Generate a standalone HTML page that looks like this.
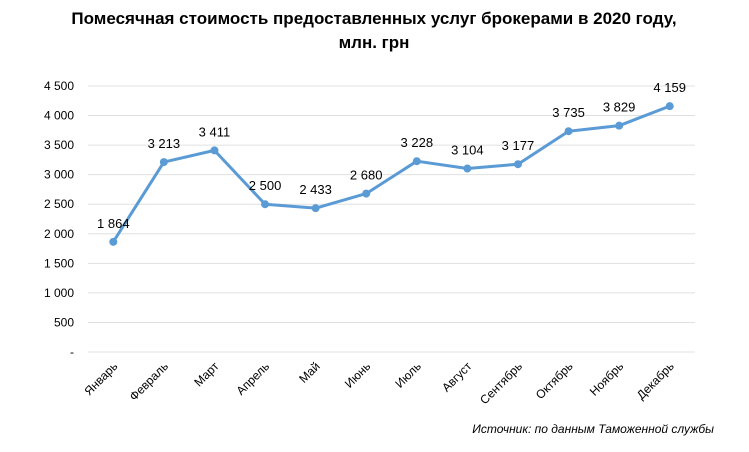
<!DOCTYPE html>
<html><head><meta charset="utf-8"><style>
body{margin:0;background:#fff;width:749px;height:447px;overflow:hidden;font-family:"Liberation Sans",Arial,sans-serif}
</style></head><body>
<svg width="749" height="447" id="c">
<text x="374" y="24" text-anchor="middle" font-size="17" font-weight="bold" fill="#000">Помесячная стоимость предоставленных услуг брокерами в 2020 году,</text>
<text x="374" y="48" text-anchor="middle" font-size="17" font-weight="bold" fill="#000">млн. грн</text>
<text x="714" y="433" text-anchor="end" font-size="12" font-style="italic" fill="#000">Источник: по данным Таможенной службы</text>
</svg>
<script>
const categories=["Январь","Февраль","Март","Апрель","Май","Июнь","Июль","Август","Сентябрь","Октябрь","Ноябрь","Декабрь"];
const values=[1864,3213,3411,2500,2433,2680,3228,3104,3177,3735,3829,4159];
const valueLabels=["1 864","3 213","3 411","2 500","2 433","2 680","3 228","3 104","3 177","3 735","3 829","4 159"];
const tickValues=[0,500,1000,1500,2000,2500,3000,3500,4000,4500];
const tickLabels=["-","500","1 000","1 500","2 000","2 500","3 000","3 500","4 000","4 500"];
const svg=document.getElementById('c');const NS="http://www.w3.org/2000/svg";
const x0=88,x1=695,y0=352,y1=86,ymax=4500;
const xs=i=>x0+(x1-x0)/categories.length*(i+0.5);
const ys=v=>y0-(v/ymax)*(y0-y1);
function mk(t,a,txt){const e=document.createElementNS(NS,t);for(const k in a)e.setAttribute(k,a[k]);if(txt!=null)e.textContent=txt;svg.appendChild(e);return e;}
tickValues.forEach((v,i)=>{
const g=mk('line',{x1:x0,x2:x1,y1:ys(v),y2:ys(v),stroke:'#e0e0e0','stroke-width':1});


const t=mk('text',{x:74,y:ys(v)+4,'text-anchor':'end','font-size':12,fill:'#000'},tickLabels[i]);


});
categories.forEach((c,i)=>{
const t=mk('text',{x:xs(i)+5,y:y0+15,'text-anchor':'end','font-size':12,fill:'#000',transform:`rotate(-45 ${xs(i)+5} ${y0+15})`},c);


});
const p=mk('polyline',{points:values.map((v,i)=>xs(i)+','+ys(v)).join(' '),fill:'none',stroke:'#5b9bd5','stroke-width':3,'stroke-linejoin':'round'});


values.forEach((v,i)=>{
const c=mk('circle',{cx:xs(i),cy:ys(v),r:4,fill:'#5b9bd5'});


const t=mk('text',{x:xs(i),y:ys(v)-14,'text-anchor':'middle','font-size':13,fill:'#000'},valueLabels[i]);


});
</script>
</body></html>
